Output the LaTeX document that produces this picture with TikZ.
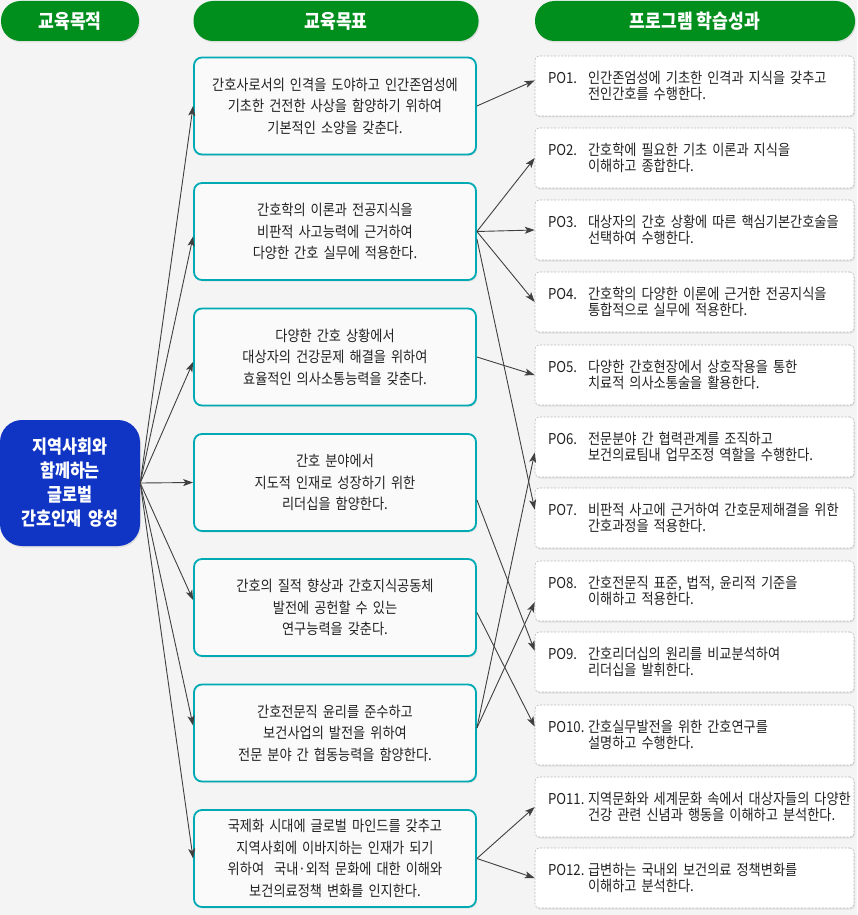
\documentclass[tikz,border=0pt]{standalone}
\usepackage{fontspec}
\setmainfont{Noto Sans CJK KR}[FakeStretch=0.88]
\usepackage{tikz}
\usetikzlibrary{arrows.meta, shadows}
\definecolor{mybg}{RGB}{244,244,244}
\definecolor{mygreen}{RGB}{0,142,28}
\definecolor{myblue}{RGB}{16,52,196}
\definecolor{myteal}{RGB}{0,170,180}
\definecolor{mydash}{RGB}{185,185,185}
\definecolor{mytext}{RGB}{34,34,34}
\definecolor{myarrow}{RGB}{64,64,64}
\newlength{\polabw}
\setlength{\polabw}{40pt}
\newcommand{\poitem}[3]{\mbox{\makebox[\polabw][l]{#1}#2}\\\mbox{\hspace*{\polabw}#3}}
\tikzset{
  header/.style={rectangle, fill=mygreen, rounded corners=19.5pt,
    minimum height=40pt, inner sep=0pt, text=white,
    font=\bfseries\fontsize{19.5pt}{19.5pt}\selectfont,
    drop shadow={opacity=0.18, shadow xshift=1pt, shadow yshift=-1.5pt}},
  aimnode/.style={rectangle, fill=myblue, rounded corners=22pt,
    minimum width=140pt, minimum height=126pt, inner sep=0pt,
    text=white, align=center, text width=136pt,
    font=\bfseries\fontsize{18.5pt}{24pt}\selectfont,
    drop shadow={opacity=0.18, shadow xshift=1pt, shadow yshift=-1.5pt}},
  goal/.style={rectangle, draw=myteal, fill=white!50!mybg, line width=1.8pt,
    rounded corners=8pt, minimum width=282pt, minimum height=97pt,
    text width=276pt, align=center, inner sep=0pt, text=mytext,
    font=\fontsize{15pt}{21.5pt}\selectfont,
    drop shadow={opacity=0.15, shadow xshift=1pt, shadow yshift=-1.5pt}},
  pobox/.style={rectangle, draw=mydash, fill=white, line width=0.6pt,
    dash pattern=on 2pt off 1.5pt, rounded corners=4pt,
    minimum width=319pt, minimum height=60pt, inner xsep=13pt,
    text width=293pt, align=left, text=mytext,
    font=\fontsize{15pt}{16.5pt}\selectfont,
    drop shadow={opacity=0.15, shadow xshift=1pt, shadow yshift=-1.5pt}},
  conn/.style={-{Stealth[length=10pt, width=7pt, inset=2.5pt]},
    line width=0.9pt, color=myarrow}
}
\begin{document}
\begin{tikzpicture}[x=1pt, y=-1pt]
  \useasboundingbox (0,0) rectangle (857,915);
  \fill[mybg] (0,0) rectangle (857,915);

  % column headers
  \node[header, minimum width=138pt] (h1) at (70,21) {교육목적};
  \node[header, minimum width=285pt] (h2) at (336,21) {교육목표};
  \node[header, minimum width=320pt] (h3) at (695,21) {프로그램 학습성과};

  % educational aim
  \node[aimnode] (aim) at (70,483) {지역사회와\\함께하는\\글로벌\\간호인재 양성};

  % educational goals
  \node[goal] (g1) at (335,106) {간호사로서의 인격을 도야하고 인간존엄성에\\기초한 건전한 사상을 함양하기 위하여\\기본적인 소양을 갖춘다.};
  \node[goal] (g2) at (335,231.5) {간호학의 이론과 전공지식을\\비판적 사고능력에 근거하여\\다양한 간호 실무에 적용한다.};
  \node[goal] (g3) at (335,357) {다양한 간호 상황에서\\대상자의 건강문제 해결을 위하여\\효율적인 의사소통능력을 갖춘다.};
  \node[goal] (g4) at (335,482.5) {간호 분야에서\\지도적 인재로 성장하기 위한\\리더십을 함양한다.};
  \node[goal] (g5) at (335,607.5) {간호의 질적 향상과 간호지식공동체\\발전에 공헌할 수 있는\\연구능력을 갖춘다.};
  \node[goal] (g6) at (335,733) {간호전문직 윤리를 준수하고\\보건사업의 발전을 위하여\\전문 분야 간 협동능력을 함양한다.};
  \node[goal] (g7) at (335,858.5) {국제화 시대에 글로벌 마인드를 갖추고\\지역사회에 이바지하는 인재가 되기\\위하여~ 국내·외적 문화에 대한 이해와\\보건의료정책 변화를 인지한다.};

  % program outcomes
  \node[pobox] (p1) at (694.5,86) {\poitem{PO1.}{인간존엄성에 기초한 인격과 지식을 갖추고}{전인간호를 수행한다.}};
  \node[pobox] (p2) at (694.5,158) {\poitem{PO2.}{간호학에 필요한 기초 이론과 지식을}{이해하고 종합한다.}};
  \node[pobox] (p3) at (694.5,230) {\poitem{PO3.}{대상자의 간호 상황에 따른 핵심기본간호술을}{선택하여 수행한다.}};
  \node[pobox] (p4) at (694.5,302) {\poitem{PO4.}{간호학의 다양한 이론에 근거한 전공지식을}{통합적으로 실무에 적용한다.}};
  \node[pobox] (p5) at (694.5,375) {\poitem{PO5.}{다양한 간호현장에서 상호작용을 통한}{치료적 의사소통술을 활용한다.}};
  \node[pobox] (p6) at (694.5,447) {\poitem{PO6.}{전문분야 간 협력관계를 조직하고}{보건의료팀내 업무조정 역할을 수행한다.}};
  \node[pobox] (p7) at (694.5,518) {\poitem{PO7.}{비판적 사고에 근거하여 간호문제해결을 위한}{간호과정을 적용한다.}};
  \node[pobox] (p8) at (694.5,591) {\poitem{PO8.}{간호전문직 표준, 법적, 윤리적 기준을}{이해하고 적용한다.}};
  \node[pobox] (p9) at (694.5,662) {\poitem{PO9.}{간호리더십의 원리를 비교분석하여}{리더십을 발휘한다.}};
  \node[pobox] (p10) at (694.5,735) {\poitem{PO10.}{간호실무발전을 위한 간호연구를}{설명하고 수행한다.}};
  \node[pobox] (p11) at (694.5,807) {\poitem{PO11.}{지역문화와 세계문화 속에서 대상자들의 다양한}{건강 관련 신념과 행동을 이해하고 분석한다.}};
  \node[pobox] (p12) at (694.5,878) {\poitem{PO12.}{급변하는 국내외 보건의료 정책변화를}{이해하고 분석한다.}};

  % aim to goals
  \draw[conn] (aim.east) -- (g1.west);
  \draw[conn] (aim.east) -- (g2.182.8);
  \draw[conn] (aim.east) -- (g3.182.4);
  \draw[conn] (aim.east) -- (g4.west);
  \draw[conn] (aim.east) -- (g5.177.7);
  \draw[conn] (aim.east) -- (g6.177.6);
  \draw[conn] (aim.east) -- (g7.west);

  % goals to outcomes
  \draw[conn] (g1.east) -- (p1.178.5);
  \draw[conn] (g2.east) -- (p2.west);
  \draw[conn] (g2.east) -- (p3.west);
  \draw[conn] (g2.east) -- (p4.west);
  \draw[conn] (g2.-3.6) -- (p7.177);
  \draw[conn] (g3.east) -- (p5.west);
  \draw[conn] (g4.-7) -- (p9.176);
  \draw[conn] (g5.-2) -- (p10.177);
  \draw[conn] (g6.2.4) -- (p6.182);
  \draw[conn] (g6.2.4) -- (p8.184);
  \draw[conn] (g7.east) -- (p11.west);
  \draw[conn] (g7.east) -- (p12.west);
\end{tikzpicture}
\end{document}
